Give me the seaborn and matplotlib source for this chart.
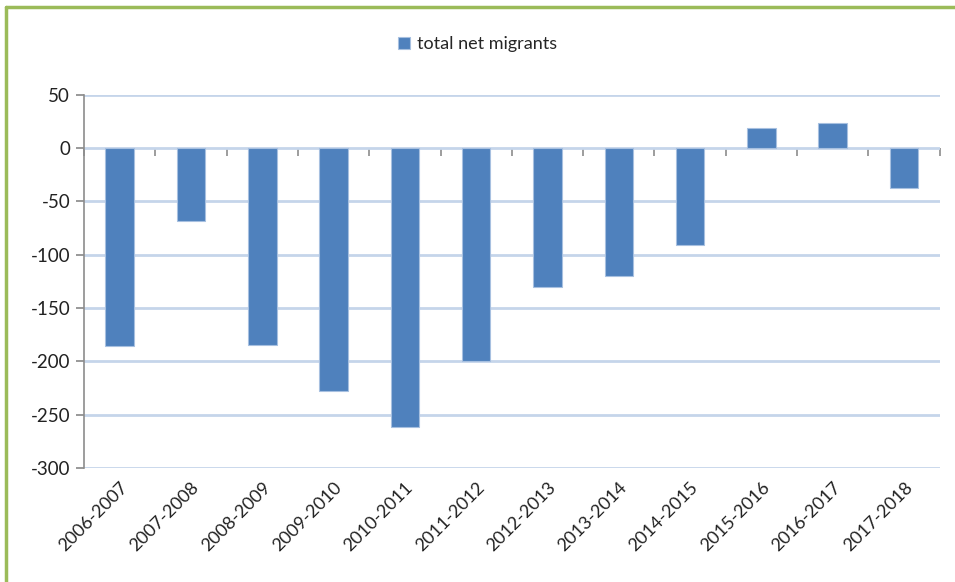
import matplotlib.pyplot as plt
import seaborn as sns
import pandas as pd

sns.set_theme(style="white")
plt.rcParams["font.family"] = ["Lato", "DejaVu Sans"]
plt.rcParams["axes.unicode_minus"] = False

periods = ["2006-2007", "2007-2008", "2008-2009", "2009-2010", "2010-2011",
           "2011-2012", "2012-2013", "2013-2014", "2014-2015", "2015-2016",
           "2016-2017", "2017-2018"]
net_migrants = [-186, -68, -185, -228, -262, -200, -130, -120, -91, 19, 24, -37]

df = pd.DataFrame({"period": periods, "total net migrants": net_migrants})

fig = plt.figure(figsize=(9.55, 5.82), dpi=100)
ax = fig.add_axes([0.088, 0.196, 0.896, 0.641])

sns.barplot(data=df, x="period", y="total net migrants", ax=ax,
            color="#4F81BD", saturation=1, width=0.4,
            edgecolor="#A7C0E0", linewidth=0.8, label="total net migrants",
            zorder=3)

ax.set_ylim(-300, 50)
ax.set_xlim(-0.5, len(periods) - 0.5)
ax.set_yticks(range(-300, 51, 50))
ax.yaxis.grid(True, color="#C5D5EA", linewidth=2)
ax.set_axisbelow(True)
ax.set_xlabel("")
ax.set_ylabel("")

for side in ["top", "right", "bottom"]:
    ax.spines[side].set_visible(False)
ax.spines["left"].set_color("#8C8C8C")
ax.spines["left"].set_linewidth(1.2)

ax.tick_params(axis="y", left=True, length=6, color="#8C8C8C", labelsize=13.5,
               labelcolor="#222222", pad=4)
ax.tick_params(axis="x", bottom=False, labelsize=13, labelcolor="#222222", pad=2)
plt.setp(ax.get_xticklabels(), rotation=45, ha="right", rotation_mode="anchor")

# category axis drawn at the zero line, ticks between categories
zero_frac = (0 - (-300)) / 350
sec = ax.secondary_xaxis(zero_frac)
sec.set_xticks([i - 0.5 for i in range(len(periods) + 1)])
sec.set_xticklabels([])
sec.tick_params(axis="x", direction="out", length=6, color="#8C8C8C", width=1.2,
                bottom=True, top=False)
sec.spines["bottom"].set_color("#8C8C8C")
sec.spines["bottom"].set_linewidth(1.5)
sec.spines["top"].set_visible(False)

handles, labels = ax.get_legend_handles_labels()
if ax.get_legend():
    ax.get_legend().remove()
fig.legend(handles, labels, loc="center", bbox_to_anchor=(0.5, 0.924),
           frameon=False, fontsize=13, handlelength=0.7, handleheight=0.7,
           handletextpad=0.4)

# green chart border (top and left)
fig.add_artist(plt.Line2D([0.006, 1.0], [0.988, 0.988], color="#9BBB59",
                          linewidth=2.5, transform=fig.transFigure))
fig.add_artist(plt.Line2D([0.006, 0.006], [0.0, 0.988], color="#9BBB59",
                          linewidth=2.5, transform=fig.transFigure))

fig.savefig("out.png", dpi=100)
